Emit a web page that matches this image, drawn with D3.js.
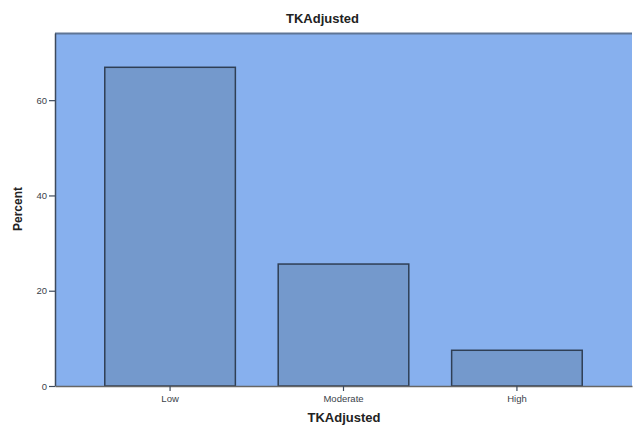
<!DOCTYPE html>
<html><head><meta charset="utf-8">
<script src="https://cdn.jsdelivr.net/npm/d3@7/dist/d3.min.js"></script>
<style>body{margin:0;background:#fff}svg{display:block}</style>
</head><body>
<script>
const categories = ["Low", "Moderate", "High"];
const percents = [66.9, 25.6, 7.5];
const yTicks = [0, 20, 40, 60];

const W = 633, H = 425;
const m = {left: 55, right: 1, top: 33, bottom: 39};
const svg = d3.select("body").append("svg").attr("width", W).attr("height", H);

const x = d3.scaleBand().domain(categories).range([m.left, W - m.right])
  .paddingInner(0.247).paddingOuter(0.287);
const y = d3.scaleLinear().domain([0, 74.1]).range([H - m.bottom, m.top]);

svg.append("rect").attr("x", m.left).attr("y", m.top)
  .attr("width", W - m.right - m.left).attr("height", H - m.bottom - m.top)
  .attr("fill", "#87b0ee");
svg.append("line").attr("x1", m.left).attr("x2", W - m.right)
  .attr("y1", m.top + 0.5).attr("y2", m.top + 0.5)
  .attr("stroke", "#5f7595").attr("stroke-width", 2);

svg.selectAll("rect.bar").data(categories).enter().append("rect")
  .attr("class", "bar")
  .attr("x", d => x(d)).attr("width", x.bandwidth())
  .attr("y", (d, i) => y(percents[i]))
  .attr("height", (d, i) => y(0) - y(percents[i]))
  .attr("fill", "#7499cc").attr("stroke", "#2f3f55").attr("stroke-width", 1.5);

const yAxis = svg.append("g").attr("transform", `translate(${m.left},0)`)
  .call(d3.axisLeft(y).tickValues(yTicks).tickSize(6).tickPadding(2).tickSizeOuter(0));
const xAxis = svg.append("g").attr("transform", `translate(0,${H - m.bottom})`)
  .call(d3.axisBottom(x).tickSize(5).tickPadding(4).tickSizeOuter(0));
[yAxis, xAxis].forEach(g => {
  g.select(".domain").attr("stroke", "#3d4a5c").attr("stroke-width", 1.5);
  g.selectAll(".tick line").attr("stroke", "#3d4a5c").attr("stroke-width", 1.2);
  g.selectAll("text").attr("fill", "#3a3f4a").attr("font-family", "Liberation Sans, Arial, sans-serif").attr("font-size", 9.5);
});
xAxis.select(".domain").attr("stroke", "#666");

svg.append("text").attr("x", W / 2 + 6).attr("y", 23).attr("text-anchor", "middle")
  .attr("font-family", "Liberation Sans, Arial, sans-serif").attr("font-weight", "bold")
  .attr("font-size", 13).attr("fill", "#222").text("TKAdjusted");
svg.append("text").attr("x", 344).attr("y", 422).attr("text-anchor", "middle")
  .attr("font-family", "Liberation Sans, Arial, sans-serif").attr("font-weight", "bold")
  .attr("font-size", 13).attr("fill", "#222").text("TKAdjusted");
svg.append("text").attr("transform", "translate(22,209) rotate(-90)").attr("text-anchor", "middle")
  .attr("font-family", "Liberation Sans, Arial, sans-serif").attr("font-weight", "bold")
  .attr("font-size", 12).attr("fill", "#222").text("Percent");
</script>
</body></html>
